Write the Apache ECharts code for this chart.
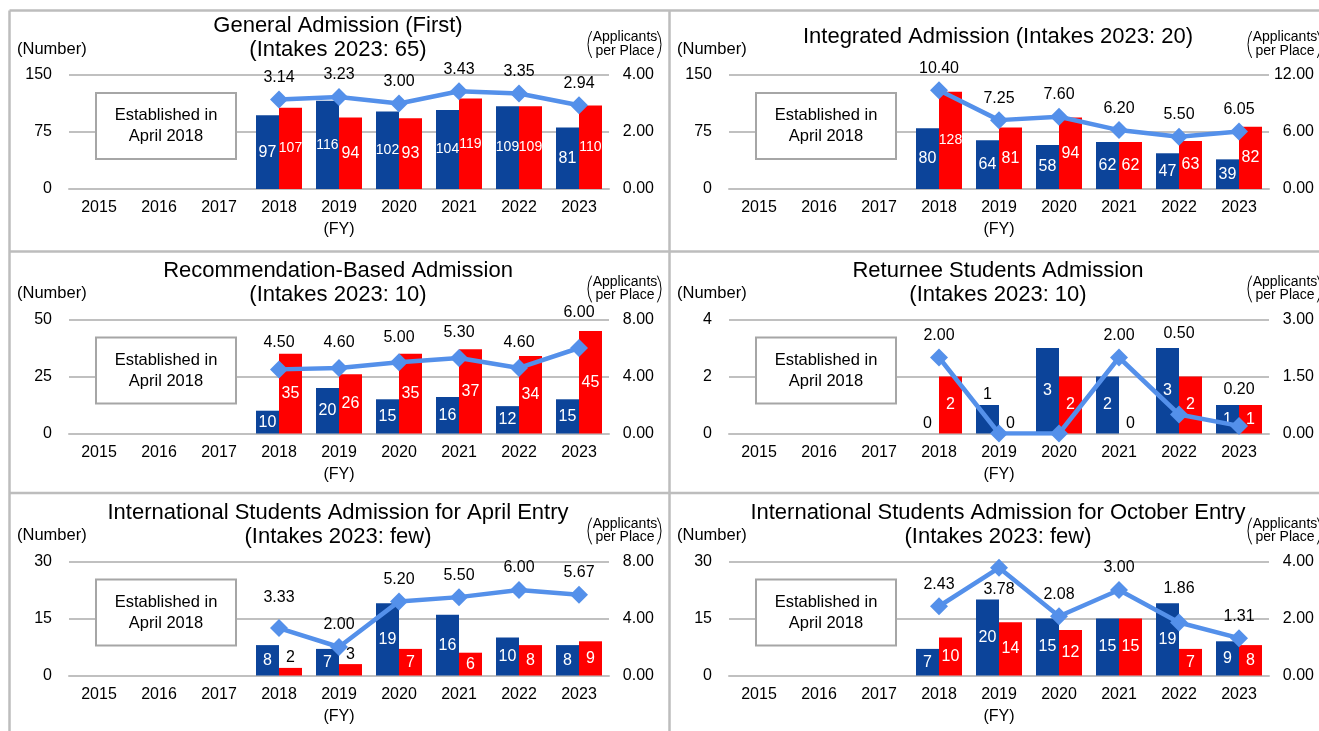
<!DOCTYPE html>
<html>
<head>
<meta charset="utf-8">
<title>Admission panels</title>
<script src="https://cdn.jsdelivr.net/npm/echarts@6/dist/echarts.min.js"></script>
<style>
  html, body { margin: 0; padding: 0; background: #fff; }
  #chart { width: 1319px; height: 731px; }
</style>
</head>
<body>
<div id="chart"></div>
<script>
// categories
const years = ['2015', '2016', '2017', '2018', '2019', '2020', '2021', '2022', '2023'];

// panel titles
const titles = [
  ['General Admission (First)', '(Intakes 2023: 65)'],
  ['Integrated Admission (Intakes 2023: 20)'],
  ['Recommendation-Based Admission', '(Intakes 2023: 10)'],
  ['Returnee Students Admission', '(Intakes 2023: 10)'],
  ['International Students Admission for April Entry', '(Intakes 2023: few)'],
  ['International Students Admission for October Entry', '(Intakes 2023: few)'],
];

// left axis (Number) and right axis (Applicants per Place) ranges
const leftMax = [150, 150, 50, 4, 30, 30];
const leftStep = [75, 75, 25, 2, 15, 15];
const rightMax = [4, 12, 8, 3, 8, 4];
const rightStep = [2, 6, 4, 1.5, 4, 2];

// values for FY2018 - FY2023 (no intake before April 2018)
const generalBlue = [97, 116, 102, 104, 109, 81];
const generalRed = [107, 94, 93, 119, 109, 110];
const generalRatio = [3.14, 3.23, 3.00, 3.43, 3.35, 2.94];

const integratedBlue = [80, 64, 58, 62, 47, 39];
const integratedRed = [128, 81, 94, 62, 63, 82];
const integratedRatio = [10.40, 7.25, 7.60, 6.20, 5.50, 6.05];

const recommendBlue = [10, 20, 15, 16, 12, 15];
const recommendRed = [35, 26, 35, 37, 34, 45];
const recommendRatio = [4.50, 4.60, 5.00, 5.30, 4.60, 6.00];

const returneeBlue = [0, 1, 3, 2, 3, 1];
const returneeRed = [2, 0, 2, 0, 2, 1];
const returneeRatio = [2.00, 0, 0, 2.00, 0.50, 0.20];

const aprilBlue = [8, 7, 19, 16, 10, 8];
const aprilRed = [2, 3, 7, 6, 8, 9];
const aprilRatio = [3.33, 2.00, 5.20, 5.50, 6.00, 5.67];

const octoberBlue = [7, 20, 15, 15, 19, 9];
const octoberRed = [10, 14, 12, 15, 7, 8];
const octoberRatio = [2.43, 3.78, 2.08, 3.00, 1.86, 1.31];

const blueSets = [generalBlue, integratedBlue, recommendBlue, returneeBlue, aprilBlue, octoberBlue];
const redSets = [generalRed, integratedRed, recommendRed, returneeRed, aprilRed, octoberRed];
const ratioSets = [generalRatio, integratedRatio, recommendRatio, returneeRatio, aprilRatio, octoberRatio];

// label placement tweaks (panel -> index in 2018..2023)
const barLabelsOutside = { 3: { blue: [1] }, 4: { red: [0, 1] } };
const ratioLabelShift = {
  2: { 0: -5, 1: -3, 2: -3, 3: -3, 4: -3, 5: -13 },
  3: { 4: -59, 5: -14 },
  4: { 0: -8 },
  5: { 4: -12 },
};
const ratioLabelHidden = { 3: [1, 2] };
const ratioLabelBelow = { 5: [1] };

const FONT = "'Liberation Sans', Arial, sans-serif";
const BLUE = '#0C449A';
const RED = '#FF0000';
const LINE = '#5490EA';
const GRID = '#C0C0C0';

const colOff = [0, 660];
const rowOff = [0, 244.5, 486.5];

const chart = echarts.init(document.getElementById('chart'));

const pad = (arr) => [null, null, null, ...arr];

const barData = (vals, panel, side) => {
  const outside = (barLabelsOutside[panel] && barLabelsOutside[panel][side]) || [];
  return pad(vals.map((v, j) => {
    if (v === 0 || outside.includes(j)) {
      return {
        value: v,
        label: { position: 'top', distance: 2, color: '#000' },
      };
    }
    return v;
  }));
};

const lineData = (vals, panel) => pad(vals.map((v, j) => {
  const item = { value: v };
  if ((ratioLabelHidden[panel] || []).includes(j)) {
    item.label = { show: false };
  } else if ((ratioLabelBelow[panel] || []).includes(j)) {
    item.label = { position: 'bottom', distance: 5 };
  } else if (ratioLabelShift[panel] && ratioLabelShift[panel][j]) {
    item.label = { offset: [0, ratioLabelShift[panel][j]] };
  }
  return item;
}));

const grids = [];
const xAxes = [];
const yAxes = [];
const series = [];
const graphics = [];

const text = (x, y, str, size, align) => ({
  type: 'text',
  x,
  y,
  silent: true,
  style: {
    text: str,
    font: `${size}px ${FONT}`,
    fill: '#000',
    align: align || 'center',
    verticalAlign: 'middle',
    textAlign: align || 'center',
    textVerticalAlign: 'middle',
  },
});

const bracket = (x, cy, left) => {
  const r = 26.5;
  const a = 0.53;
  return {
    type: 'arc',
    silent: true,
    shape: {
      cx: left ? x + r : x - r,
      cy,
      r,
      startAngle: left ? Math.PI - a : -a,
      endAngle: left ? Math.PI + a : a,
      clockwise: true,
    },
    style: { stroke: '#000', lineWidth: 1, fill: null },
  };
};

// three-digit values are squeezed to fit inside the bar
const barLabel = {
  show: true,
  position: 'inside',
  color: '#fff',
  fontSize: 16,
  fontFamily: FONT,
  formatter: (p) => (p.value >= 100 ? `{n|${p.value}}` : `${p.value}`),
  rich: {
    n: { fontFamily: FONT, fontSize: 14, color: '#fff' },
  },
};

for (let i = 0; i < 6; i += 1) {
  const ox = colOff[i % 2];
  const oy = rowOff[Math.floor(i / 2)];

  grids.push({ left: 69 + ox, top: 75 + oy, width: 540, height: 114 });

  xAxes.push({
    type: 'category',
    gridIndex: i,
    data: years,
    axisTick: { show: false },
    axisLine: { lineStyle: { color: GRID, width: 2 } },
    axisLabel: { color: '#000', fontSize: 16, fontFamily: FONT, margin: 11 },
    name: '(FY)',
    nameLocation: 'middle',
    nameGap: 33,
    nameTextStyle: { color: '#000', fontSize: 16, fontFamily: FONT },
  });

  yAxes.push({
    type: 'value',
    gridIndex: i,
    min: 0,
    max: leftMax[i],
    interval: leftStep[i],
    axisLine: { show: false },
    axisTick: { show: false },
    splitLine: { lineStyle: { color: GRID, width: 2 } },
    axisLabel: { color: '#000', fontSize: 16, fontFamily: FONT, margin: 17 },
  });
  yAxes.push({
    type: 'value',
    gridIndex: i,
    position: 'right',
    min: 0,
    max: rightMax[i],
    interval: rightStep[i],
    axisLine: { show: false },
    axisTick: { show: false },
    splitLine: { show: false },
    axisLabel: {
      color: '#000',
      fontSize: 16,
      fontFamily: FONT,
      align: 'right',
      margin: 45,
      formatter: (v) => v.toFixed(2),
    },
  });

  series.push({
    name: 'Blue',
    type: 'bar',
    xAxisIndex: i,
    yAxisIndex: 2 * i,
    barWidth: 23,
    barGap: 0,
    itemStyle: { color: BLUE },
    label: barLabel,
    data: barData(blueSets[i], i, 'blue'),
    z: 2,
  });
  series.push({
    name: 'Red',
    type: 'bar',
    xAxisIndex: i,
    yAxisIndex: 2 * i,
    barWidth: 23,
    barGap: 0,
    itemStyle: { color: RED },
    label: barLabel,
    data: barData(redSets[i], i, 'red'),
    z: 2,
  });
  series.push({
    name: 'Applicants per Place',
    type: 'line',
    xAxisIndex: i,
    yAxisIndex: 2 * i + 1,
    symbol: 'diamond',
    symbolSize: 18,
    lineStyle: { color: LINE, width: 4.5 },
    itemStyle: { color: LINE },
    label: {
      show: true,
      position: 'top',
      distance: 5,
      color: '#000',
      fontSize: 16,
      fontFamily: FONT,
      formatter: (p) => p.value.toFixed(2),
    },
    data: lineData(ratioSets[i], i),
    z: 5,
  });

  // titles
  const t = titles[i];
  if (t.length === 2) {
    graphics.push(text(338 + ox, 26 + oy, t[0], 22));
    graphics.push(text(338 + ox, 50 + oy, t[1], 22));
  } else {
    graphics.push(text(338 + ox, 37 + oy, t[0], 22));
  }

  // axis units
  graphics.push(text(17 + ox, 49 + oy, '(Number)', 16.5, 'left'));
  graphics.push(text(625 + ox, 37.5 + oy, 'Applicants', 14));
  graphics.push(text(625 + ox, 51 + oy, 'per Place', 14));
  graphics.push(bracket(588 + ox, 44.5 + oy, true));
  graphics.push(bracket(661 + ox, 44.5 + oy, false));

  // established note
  graphics.push({
    type: 'rect',
    silent: true,
    shape: { x: 96 + ox, y: 93 + oy, width: 140, height: 66 },
    style: { fill: '#fff', stroke: '#A6A6A6', lineWidth: 2 },
    z: 10,
  });
  graphics.push({ ...text(166 + ox, 115.5 + oy, 'Established in', 16.5), z: 11 });
  graphics.push({ ...text(166 + ox, 136.5 + oy, 'April 2018', 16.5), z: 11 });
}

// panel frame
const frame = [
  [9.5, 10.5, 1319, 10.5],
  [9.5, 10.5, 9.5, 731],
  [669.5, 10.5, 669.5, 731],
  [9.5, 251.5, 1319, 251.5],
  [9.5, 493, 1319, 493],
];
frame.forEach(([x1, y1, x2, y2]) => {
  graphics.push({
    type: 'line',
    silent: true,
    shape: { x1, y1, x2, y2 },
    style: { stroke: '#BDBDBD', lineWidth: 2.5 },
  });
});

chart.setOption({
  backgroundColor: '#fff',
  animation: false,
  grid: grids,
  xAxis: xAxes,
  yAxis: yAxes,
  series,
  graphic: graphics,
});
</script>
</body>
</html>
